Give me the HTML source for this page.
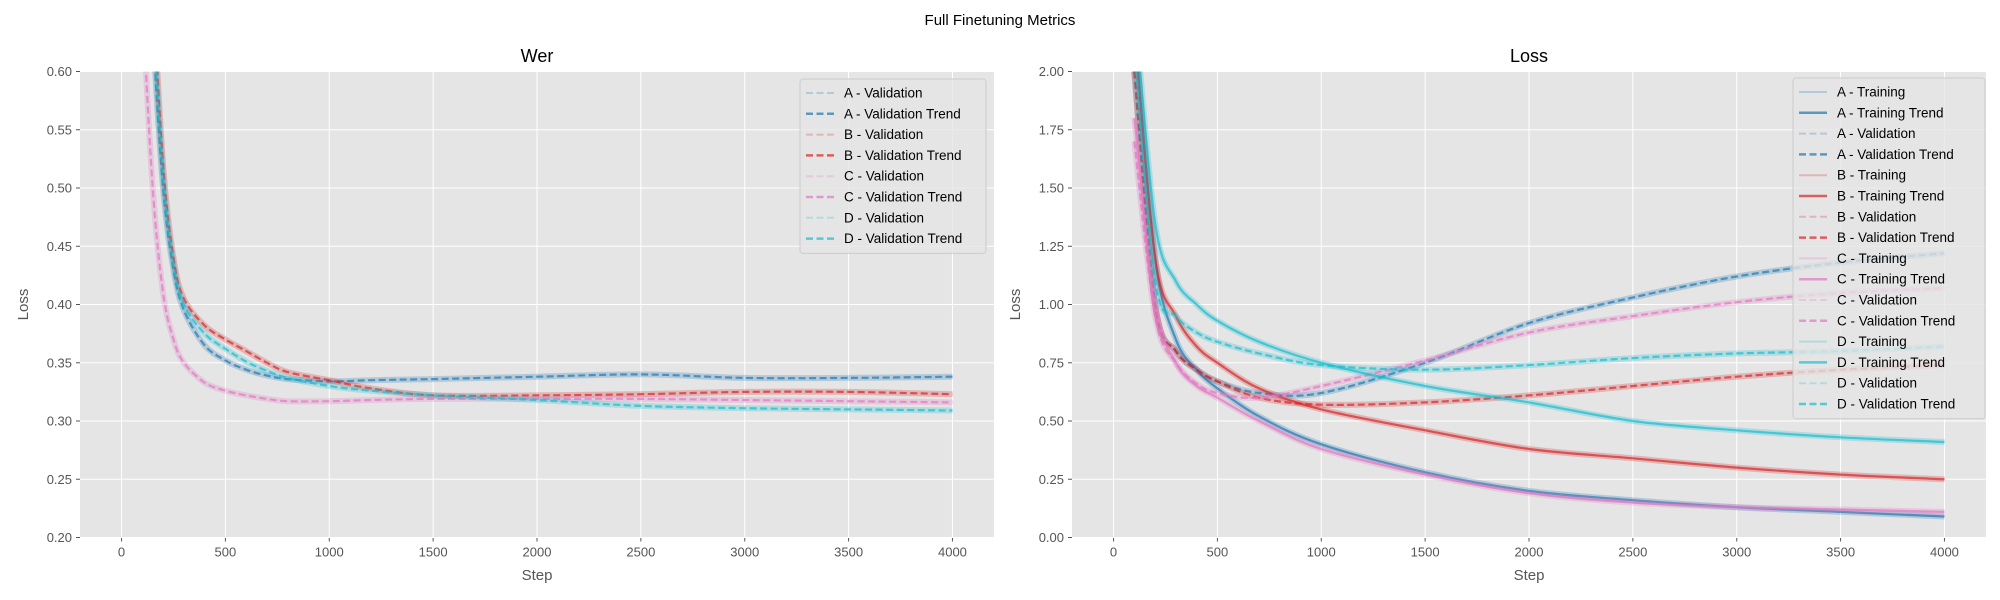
<!DOCTYPE html>
<html><head><meta charset="utf-8"><style>
body{margin:0;background:#fff;}
svg{display:block;font-family:"Liberation Sans","DejaVu Sans",sans-serif;}
</style></head><body>
<svg id="fig" width="2000" height="600" viewBox="0 0 2000 600">
<text x="1000" y="25" text-anchor="middle" font-size="15" fill="#000">Full Finetuning Metrics</text>
</svg>
<script>
// ---- Wer data ----
const werSteps = [100,150,200,250,300,400,500,600,700,800,1000,1200,1500,2000,2500,3000,3500,4000];
const werA = [0.85,0.64,0.5,0.43,0.395,0.365,0.352,0.344,0.339,0.336,0.334,0.335,0.336,0.338,0.34,0.337,0.337,0.338];
const werB = [0.9,0.68,0.52,0.44,0.405,0.382,0.37,0.36,0.35,0.342,0.335,0.328,0.322,0.322,0.323,0.325,0.325,0.323];
const werC = [0.66,0.5,0.41,0.37,0.35,0.333,0.326,0.322,0.319,0.317,0.317,0.318,0.319,0.319,0.319,0.318,0.317,0.316];
const werD = [0.87,0.66,0.51,0.435,0.4,0.375,0.362,0.351,0.343,0.337,0.33,0.326,0.322,0.318,0.313,0.311,0.31,0.309];
const werTicks = ["0.20","0.25","0.30","0.35","0.40","0.45","0.50","0.55","0.60"];
// ---- Loss data ----
const lossSteps = [100,200,300,400,500,700,1000,1500,2000,2500,3000,3500,4000];
const trainA = [2.2,1.2,0.85,0.72,0.64,0.52,0.4,0.28,0.2,0.16,0.13,0.11,0.09];
const trainB = [2.2,1.2,0.95,0.82,0.75,0.64,0.55,0.46,0.38,0.34,0.3,0.27,0.25];
const trainC = [1.8,1.0,0.75,0.65,0.6,0.5,0.38,0.27,0.19,0.15,0.13,0.12,0.11];
const trainD = [2.3,1.35,1.1,1.0,0.93,0.84,0.75,0.65,0.58,0.5,0.46,0.43,0.41];
const valA = [2.0,1.0,0.8,0.72,0.67,0.62,0.62,0.75,0.92,1.03,1.12,1.18,1.22];
const valB = [2.0,1.0,0.8,0.72,0.67,0.6,0.57,0.58,0.61,0.65,0.69,0.72,0.74];
const valC = [1.7,0.95,0.75,0.66,0.62,0.6,0.65,0.76,0.88,0.95,1.01,1.05,1.07];
const valD = [2.1,1.1,0.95,0.88,0.84,0.79,0.74,0.72,0.74,0.77,0.79,0.8,0.82];
const lossTicks = ["0.00","0.25","0.50","0.75","1.00","1.25","1.50","1.75","2.00"];
const xTicks = [0,500,1000,1500,2000,2500,3000,3500,4000];

const NS="http://www.w3.org/2000/svg";
const fig=document.getElementById('fig');
const COL={A:"#1f77b4",B:"#d62728",C:"#e377c2",D:"#17becf"};
function mk(tag,attrs,parent){const e=document.createElementNS(NS,tag);for(const k in attrs)e.setAttribute(k,attrs[k]);(parent||fig).appendChild(e);return e;}
function smoothPath(pts){
  let d="M"+pts[0][0].toFixed(1)+","+pts[0][1].toFixed(1);
  for(let i=0;i<pts.length-1;i++){
    const p0=pts[Math.max(0,i-1)],p1=pts[i],p2=pts[i+1],p3=pts[Math.min(pts.length-1,i+2)];
    const c1x=p1[0]+(p2[0]-p0[0])/6,c1y=p1[1]+(p2[1]-p0[1])/6;
    const c2x=p2[0]-(p3[0]-p1[0])/6,c2y=p2[1]-(p3[1]-p1[1])/6;
    d+=" C"+c1x.toFixed(1)+","+c1y.toFixed(1)+" "+c2x.toFixed(1)+","+c2y.toFixed(1)+" "+p2[0].toFixed(1)+","+p2[1].toFixed(1);
  }
  return d;
}
function makeAxes(id,L,title,ymin,ymax,ticks){
  const T=71.5,B=537.5,R=L+914;
  const xs=v=>L+(v+200)/4400*(R-L);
  const ys=v=>B-(v-ymin)/(ymax-ymin)*(B-T);
  const g=mk('g',{});
  
  
  const bg=mk('rect',{x:L,y:T,width:R-L,height:B-T,fill:"#e5e5e5"},g);
  
  
  const cp=mk('clipPath',{id:id+'clip'},g);mk('rect',{x:L,y:T,width:R-L,height:B-T},cp);
  xTicks.forEach(t=>{const x=xs(t);
    mk('line',{x1:x,x2:x,y1:T,y2:B,stroke:"#fff","stroke-width":1},g);
    mk('line',{x1:x,x2:x,y1:B,y2:B+4,stroke:"#555"},g);
    const tx=mk('text',{x:x,y:B+19,"text-anchor":"middle","font-size":13,fill:"#555"},g);tx.textContent=t;
    
    
  });
  ticks.forEach(t=>{const y=ys(parseFloat(t));
    mk('line',{x1:L,x2:R,y1:y,y2:y,stroke:"#fff","stroke-width":1},g);
    mk('line',{x1:L-4,x2:L,y1:y,y2:y,stroke:"#555"},g);
    const tx=mk('text',{x:L-8,y:y+4.5,"text-anchor":"end","font-size":13,fill:"#555"},g);tx.textContent=t;
    
    
  });
  const tt=mk('text',{x:(L+R)/2,y:62,"text-anchor":"middle","font-size":18,fill:"#000"},g);tt.textContent=title;
  
  
  const xl=mk('text',{x:(L+R)/2,y:580,"text-anchor":"middle","font-size":15,fill:"#555"},g);xl.textContent="Step";
  
  
  const yx=L-52,yy=(T+B)/2;
  const yl=mk('text',{x:yx,y:yy,"text-anchor":"middle","font-size":15,fill:"#555",transform:`rotate(-90 ${yx} ${yy})`},g);yl.textContent="Loss";
  
  
  const plot=mk('g',{"clip-path":`url(#${id}clip)`},g);
  return {xs,ys,plot,g,L,R,T};
}
function series(ax,steps,vals,color,dashed,name){
  const pts=steps.map((s,i)=>[ax.xs(s),ax.ys(vals[i])]);
  const d=smoothPath(pts);
  const raw=mk('path',{d:d,fill:"none",stroke:color,"stroke-width":6,"stroke-opacity":0.25},ax.plot);
  
  
  const tr=mk('path',{d:d,fill:"none",stroke:color,"stroke-width":2.2,"stroke-opacity":0.7,"stroke-dasharray":dashed?"7,3.5":"none"},ax.plot);
  
  
}
function legend(ax,x,y,w,entries){
  const h=entries.length*20.8+8;
  const g=mk('g',{},ax.g);
  
  
  mk('rect',{x:x,y:y,width:w,height:h,rx:3,fill:"#e5e5e5","fill-opacity":0.8,stroke:"#ccc"},g);
  entries.forEach((e,i)=>{const cy=y+14+i*20.8;
    const ln=mk('line',{x1:x+6,x2:x+34,y1:cy,y2:cy,stroke:e[1],"stroke-width":e[3]?2.5:2,"stroke-opacity":e[3]?0.7:0.25,"stroke-dasharray":e[2]?"7,3.5":"none"},g);
    
    
    const t=mk('text',{x:x+44,y:cy+4.5,"font-size":13.5,fill:"#000"},g);t.textContent=e[0];
    
    
  });
}
const a1=makeAxes('wer',80,'Wer',0.2,0.6,werTicks);
series(a1,werSteps,werA,COL.A,true,'wer-a-validation');
series(a1,werSteps,werB,COL.B,true,'wer-b-validation');
series(a1,werSteps,werC,COL.C,true,'wer-c-validation');
series(a1,werSteps,werD,COL.D,true,'wer-d-validation');
legend(a1,800,79,186,[["A - Validation",COL.A,true,false],["A - Validation Trend",COL.A,true,true],["B - Validation",COL.B,true,false],["B - Validation Trend",COL.B,true,true],["C - Validation",COL.C,true,false],["C - Validation Trend",COL.C,true,true],["D - Validation",COL.D,true,false],["D - Validation Trend",COL.D,true,true]]);
const a2=makeAxes('loss',1072,'Loss',0,2,lossTicks);
series(a2,lossSteps,trainA,COL.A,false,'loss-a-training');
series(a2,lossSteps,valA,COL.A,true,'loss-a-validation');
series(a2,lossSteps,trainB,COL.B,false,'loss-b-training');
series(a2,lossSteps,valB,COL.B,true,'loss-b-validation');
series(a2,lossSteps,trainC,COL.C,false,'loss-c-training');
series(a2,lossSteps,valC,COL.C,true,'loss-c-validation');
series(a2,lossSteps,trainD,COL.D,false,'loss-d-training');
series(a2,lossSteps,valD,COL.D,true,'loss-d-validation');
const le=[];
["A","B","C","D"].forEach(k=>{le.push([k+" - Training",COL[k],false,false]);le.push([k+" - Training Trend",COL[k],false,true]);le.push([k+" - Validation",COL[k],true,false]);le.push([k+" - Validation Trend",COL[k],true,true]);});
legend(a2,1793,78,192,le);
</script>
</body></html>
